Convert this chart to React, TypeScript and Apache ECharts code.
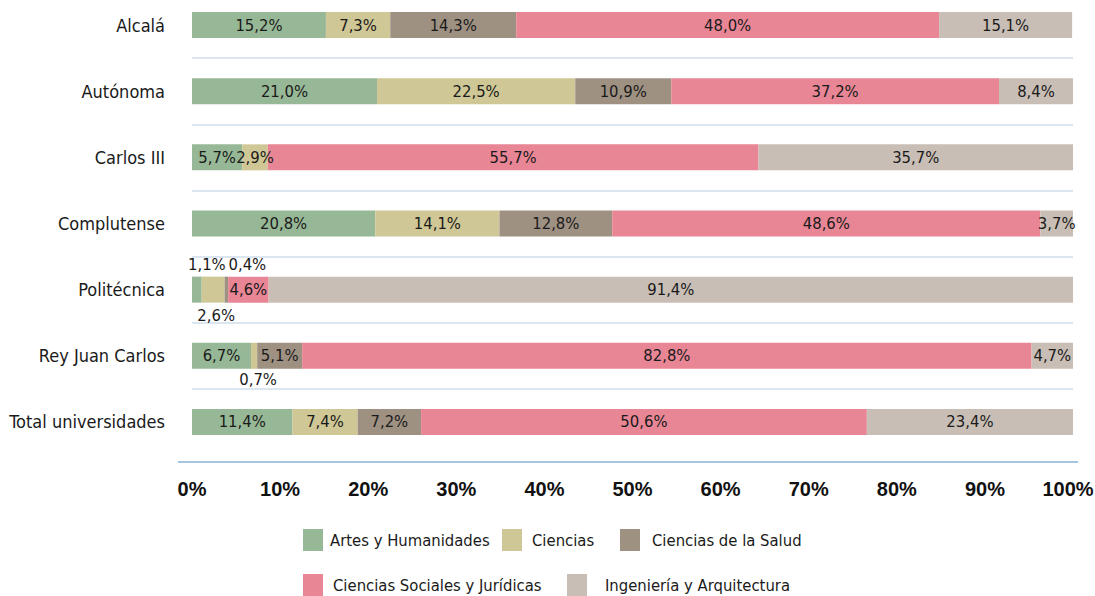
import React, { useEffect, useRef } from "react";
import * as echarts from "echarts";

const categories = [
  "Alcalá",
  "Autónoma",
  "Carlos III",
  "Complutense",
  "Politécnica",
  "Rey Juan Carlos",
  "Total universidades",
];

const seriesNames = [
  "Artes y Humanidades",
  "Ciencias",
  "Ciencias de la Salud",
  "Ciencias Sociales y Jurídicas",
  "Ingeniería y Arquitectura",
];

const artesHumanidades = [15.2, 21.0, 5.7, 20.8, 1.1, 6.7, 11.4];
const ciencias = [7.3, 22.5, 2.9, 14.1, 2.6, 0.7, 7.4];
const cienciasSalud = [14.3, 10.9, 0, 12.8, 0.4, 5.1, 7.2];
const cienciasSociales = [48.0, 37.2, 55.7, 48.6, 4.6, 82.8, 50.6];
const ingenieria = [15.1, 8.4, 35.7, 3.7, 91.4, 4.7, 23.4];

const xTicks = [0, 10, 20, 30, 40, 50, 60, 70, 80, 90, 100];

const seriesValues = [artesHumanidades, ciencias, cienciasSalud, cienciasSociales, ingenieria];
const colors = ["#97b896", "#cfc795", "#9f9182", "#e98696", "#c9beb5"];

// labels that sit outside the bar (series index, category index)
const outsideLabels: Record<string, { position: string; offset: number[] }> = {
  "0-4": { position: "top", offset: [10, 0] },
  "2-4": { position: "top", offset: [21, 0] },
  "1-4": { position: "bottom", offset: [3, 0] },
  "1-5": { position: "bottom", offset: [4, -2] },
};

// legend item placement
const legendPlaces = [
  { left: 303, top: 529, gap: 2 },
  { left: 502, top: 529, gap: 5 },
  { left: 620, top: 529, gap: 7 },
  { left: 303, top: 574, gap: 5 },
  { left: 567, top: 574, gap: 13 },
];

const NARROW = "'Liberation Sans Narrow', 'DejaVu Sans Condensed', 'Arial Narrow', sans-serif";

const fmt = (v: number) => v.toFixed(1).replace(".", ",") + "%";

export default function App() {
  const ref = useRef<HTMLDivElement>(null);
  useEffect(() => {
    if (!ref.current) return;
    const chart = echarts.init(ref.current, null, { renderer: "svg" });
    const series = seriesNames.map((name, si) => ({
      name,
      type: "bar",
      stack: "total",
      barWidth: 26,
      itemStyle: { color: colors[si] },
      label: {
        show: true,
        position: "inside",
        color: "#1a1a1a",
        fontFamily: NARROW,
        fontSize: 16.5,
        formatter: (p: any) => (p.value ? fmt(p.value) : ""),
      },
      data: seriesValues[si].map((v, ci) => {
        const o = outsideLabels[`${si}-${ci}`];
        if (o) {
          return { value: v, label: { position: o.position, offset: o.offset, distance: 4 } };
        }
        return v;
      }),
    }));

    chart.setOption({
      animation: false,
      grid: { left: 192, right: 22, top: -8, height: 463, containLabel: false, outerBoundsMode: "none" },
      xAxis: {
        type: "value",
        min: 0,
        max: 100,
        interval: 10,
        axisLine: { show: false },
        axisTick: { show: false },
        splitLine: { show: false },
        axisLabel: {
          margin: 24,
          color: "#111",
          fontWeight: "bold",
          fontSize: 20,
          fontFamily: "'Liberation Sans', Arial, sans-serif",
          formatter: (v: number) =>
            xTicks.includes(v) ? (v === 100 ? "{last|" + v + "%}" : v + "%") : "",
          rich: {
            last: {
              color: "#111",
              fontWeight: "bold",
              fontSize: 20,
              fontFamily: "'Liberation Sans', Arial, sans-serif",
              padding: [0, 10, 0, 0],
            },
          },
        },
      },
      yAxis: {
        type: "category",
        inverse: true,
        data: categories,
        axisLine: { show: false },
        axisTick: { show: false },
        splitLine: {
          show: true,
          showMinLine: false,
          showMaxLine: false,
          lineStyle: { color: "#dce6f0", width: 2 },
        },
        axisLabel: {
          margin: 27,
          color: "#1a1a1a",
          fontSize: 18,
          fontFamily: NARROW,
        },
      },
      legend: seriesNames.map((name, i) => ({
        data: [name],
        left: legendPlaces[i].left,
        top: legendPlaces[i].top,
        padding: 0,
        itemWidth: 20,
        itemHeight: 22,
        icon: "rect",
        selectedMode: false,
        textStyle: {
          fontFamily: NARROW,
          fontSize: 16.5,
          color: "#1a1a1a",
          padding: [0, 0, 0, legendPlaces[i].gap],
        },
      })),
      graphic: [
        {
          type: "line",
          shape: { x1: 178, y1: 462, x2: 1078, y2: 462 },
          style: { stroke: "#a3c6e1", lineWidth: 2 },
        },
      ],
      series,
    });
    return () => chart.dispose();
  }, []);
  return (
    <div
      ref={ref}
      style={{ position: "fixed", left: 0, top: 0, width: 1095, height: 596, background: "#fff" }}
    />
  );
}
